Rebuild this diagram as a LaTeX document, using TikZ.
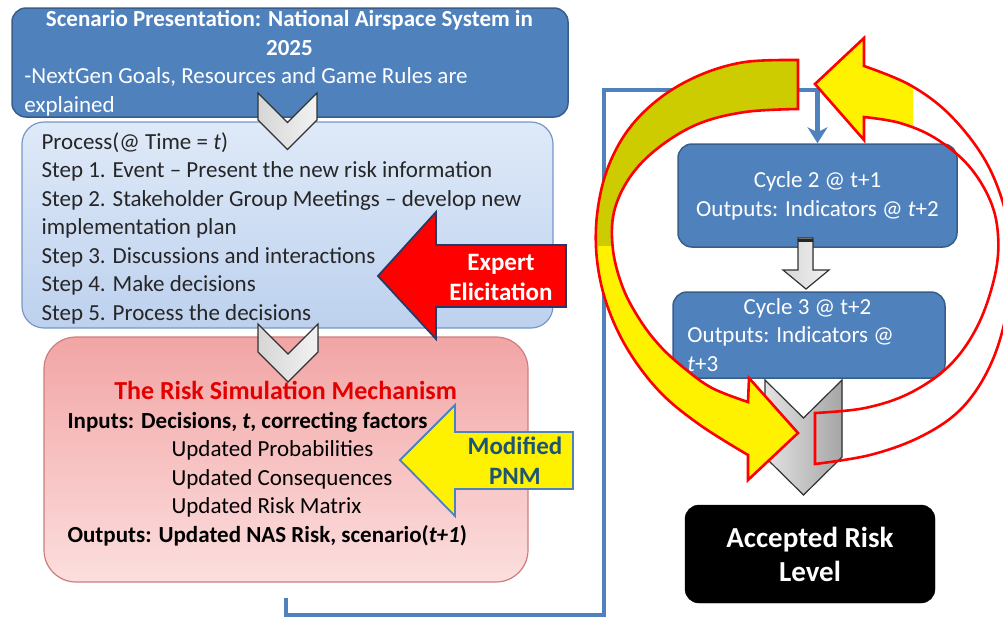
\documentclass[tikz,border=0pt]{standalone}
\usepackage{fontspec}
\setmainfont{Carlito}
\usetikzlibrary{arrows.meta}

\definecolor{nasblue}{RGB}{79,129,189}
\definecolor{nasedge}{RGB}{56,93,138}
\definecolor{proctop}{RGB}{223,234,248}
\definecolor{procbot}{RGB}{189,209,238}
\definecolor{procedge}{RGB}{120,150,200}
\definecolor{risktop}{RGB}{242,165,165}
\definecolor{riskbot}{RGB}{252,222,222}
\definecolor{riskedge}{RGB}{205,125,125}
\definecolor{riskred}{RGB}{228,0,0}
\definecolor{expertedge}{RGB}{38,58,105}
\definecolor{pnmtext}{RGB}{30,85,118}
\definecolor{olivey}{RGB}{204,204,0}

% the two curved arrows round the cycle boxes
\newcommand{\looprightpath}{plot[smooth,tension=.6] coordinates {(815,464) (870,455) (920,437) (960,410) (988,370) (1005,320) (1012,260) (1005,210) (985,160) (950,115) (910,85) (864,66)} -- (864,38) -- (815,84) -- (864,140) -- plot[smooth,tension=.6] coordinates {(864,117) (900,123) (935,138) (968,165) (990,200) (998,235) (995,275) (978,325) (950,365) (910,393) (865,408) (815,413)} -- cycle}
\newcommand{\loopleftpath}{plot[smooth,tension=.6] coordinates {(798,60) (745,62) (700,75) (660,98) (628,130) (607,170) (597,215) (597,260) (607,305) (628,350) (660,392) (700,425) (748,455)} -- (748,480) -- (798,433) -- (749,378) -- plot[smooth,tension=.6] coordinates {(748,402) (712,388) (684,368) (660,346) (640,320) (623,288) (613,250) (614,212) (630,177) (658,148) (698,124) (745,112) (798,109)} -- cycle}

\begin{document}
\begin{tikzpicture}%
[x=1pt,y=-1pt,
txt/.style={font=\fontsize{23}{28.5}\selectfont, inner sep=0pt, align=left},
bluebox/.style={draw=nasedge, line width=1.5pt, fill=nasblue, rounded corners=14pt, text=white, font=\fontsize{23}{29}\selectfont, align=center},
procbox/.style={draw=procedge, line width=1.2pt, top color=proctop, bottom color=procbot, rounded corners=22pt},
riskbox/.style={draw=riskedge, line width=1.2pt, top color=risktop, bottom color=riskbot, rounded corners=32pt},
blackbox/.style={draw=black, fill=black, rounded corners=14pt, text=white, align=center, font=\fontsize{29}{34}\selectfont\bfseries},
chev/.style={draw=black!80, line width=1.2pt, left color=gray!32, right color=gray!10},
chevdark/.style={draw=black!80, line width=1.2pt, left color=gray!22, right color=gray!70},
bigbold/.style={font=\fontsize{25}{30}\selectfont\bfseries, align=center, inner sep=0pt},
ringline/.style={draw=red, line width=2.6pt},
loopline/.style={draw=nasblue, line width=4.5pt, -{Stealth[length=16pt,width=20pt,inset=5pt]}}]

\useasboundingbox (0,0) rectangle (1003,622);

% left column
\node[bluebox, minimum width=556pt, minimum height=109pt] (scen) at (290,62.5) {};
\node[txt, text=white, anchor=west] (scentext) at ([xshift=13pt,yshift=-1pt]scen.west)
{\makebox[530pt][c]{\bfseries Scenario Presentation: National  Airspace System in}\\
\makebox[530pt][c]{\bfseries 2025}\\
-NextGen Goals, Resources and Game Rules are\\
explained};

\node[procbox, minimum width=531pt, minimum height=206pt] (proc) at (287.5,225) {};
\node[txt, text=black!85, anchor=west] (proctext) at ([xshift=20pt,yshift=-3pt]proc.west)
{Process(@ Time = \textit{t})\\
Step 1. Event -- Present the new risk information\\
Step 2. Stakeholder Group Meetings -- develop new\\
implementation plan\\
Step 3. Discussions and interactions\\
Step 4. Make decisions\\
Step 5. Process the decisions};

\node[riskbox, minimum width=484pt, minimum height=245pt] (risk) at (286,459.5) {};
\node[txt, text=black, anchor=west] (risktext) at ([xshift=24pt,yshift=-4pt]risk.west)
{\makebox[436pt][c]{\fontsize{26}{28.5}\selectfont\color{riskred}\bfseries The Risk Simulation Mechanism}\\
\textbf{Inputs: Decisions, \textit{t}, correcting factors}\\
\hspace*{104pt}Updated Probabilities\\
\hspace*{104pt}Updated Consequences\\
\hspace*{104pt}Updated Risk Matrix\\
\textbf{Outputs: Updated NAS Risk, scenario(\textit{t+1})}};

\filldraw[chev] (258,93) -- (287.5,122.5) -- (317,93) -- (317,120) -- (287.5,149.5) -- (258,120) -- cycle;
\filldraw[chev] (258,324) -- (288,354) -- (318,324) -- (318,352) -- (288,382) -- (258,352) -- cycle;

\filldraw[fill=red, draw=expertedge, line width=1.8pt] (378,276) -- (436,212) -- (436,245) -- (566,245) -- (566,307) -- (436,307) -- (436,339) -- cycle;
\node[bigbold, text=white] (expert) at (501,277) {Expert\\Elicitation};

\filldraw[fill=yellow, draw=nasblue, line width=1.8pt] (400,460) -- (455,405) -- (455,432) -- (573,432) -- (573,489) -- (455,489) -- (455,516) -- cycle;
\node[bigbold, text=pnmtext] (pnm) at (515,461) {Modified\\PNM};

% right column
\node[bluebox, minimum width=279pt, minimum height=103pt] (cyc2) at (817.5,195.5)
{Cycle 2 @ t+1\\Outputs: Indicators @ \textit{t}+2};
\node[bluebox, minimum width=272pt, minimum height=86pt] (cyc3) at (809,335) {};
\node[txt, text=white, anchor=west] (cyc3text) at ([xshift=15pt]cyc3.west)
{\makebox[240pt][c]{Cycle 3 @ t+2}\\Outputs: Indicators @\\\textit{t}+3};
\node[blackbox, minimum width=250pt, minimum height=98pt] (acc) at (810,554) {Accepted Risk\\Level};

\coordinate (loopbl) at (604,615);
\coordinate (looptl) at (604,90);
\draw[loopline] ([yshift=-15pt]risk.south) |- (loopbl) -- (looptl) -| (cyc2.north);

\filldraw[chev] (798,238) -- (813,238) -- (813,270) -- (829,270) -- (806,289) -- (783,270) -- (798,270) -- cycle;
\draw[black!85, line width=3pt] (798,240) -- (813,240);
\filldraw[chevdark] (765,380) -- (803.5,418) -- (842,380) -- (842,457) -- (803.5,495) -- (765,457) -- cycle;

% loop arrows
\fill[yellow] \loopleftpath;
\begin{scope}
\clip (560,20) rectangle (820,245);
\fill[olivey] \loopleftpath;
\end{scope}
\draw[ringline] \loopleftpath;

\begin{scope}
\clip (760,20) rectangle (913,160);
\fill[yellow] \looprightpath;
\end{scope}
\draw[ringline] \looprightpath;

\end{tikzpicture}
\end{document}
